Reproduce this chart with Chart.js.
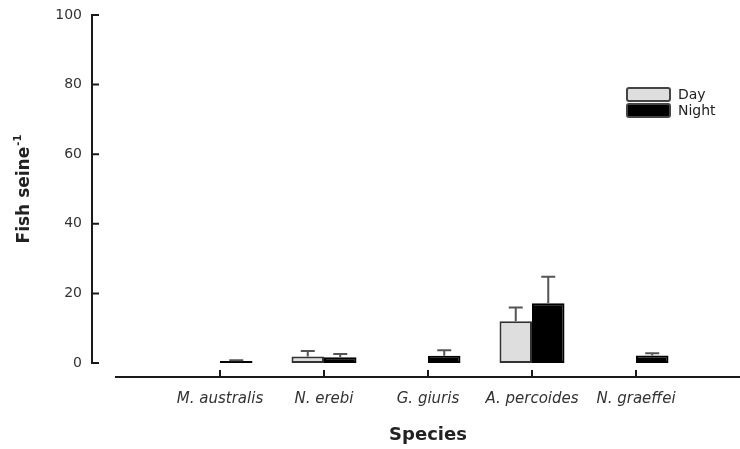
<!DOCTYPE html>
<html>
<head>
<meta charset="utf-8">
<title>Fish seine by species</title>
<script src="https://cdn.jsdelivr.net/npm/chart.js"></script>
<style>
  html, body { margin: 0; padding: 0; background: #fff; }
  #wrap { width: 740px; height: 449px; position: relative; }
</style>
</head>
<body>
<div id="wrap"><canvas id="fishChart"></canvas></div>
<script>
var species = ['M. australis', 'N. erebi', 'G. giuris', 'A. percoides', 'N. graeffei'];
var dayMean = [0, 1.9, 0, 12.0, 0];
var daySE = [0, 1.6, 0, 4.0, 0];
var nightMean = [0.6, 1.7, 2.1, 17.2, 2.2];
var nightSE = [0.2, 0.9, 1.6, 7.6, 0.6];
var yTicks = [0, 20, 40, 60, 80, 100];

// one empty slot at each end so the species sit in from the axis ends
function pad(arr, fill) { return [fill].concat(arr, [fill]); }

Chart.defaults.font.family = '"DejaVu Sans", sans-serif';

// SigmaPlot-style axes (detached y axis, inward ticks), upper error bars, legend
var axesAndErrors = {
  id: 'axesAndErrors',
  afterDatasetsDraw: function(chart) {
    var ctx = chart.ctx, area = chart.chartArea;
    var xs = chart.scales.x, ys = chart.scales.y;
    ctx.save();

    // error bars, upper arm only
    ctx.strokeStyle = '#555';
    ctx.lineWidth = 2;
    [[dayMean, daySE], [nightMean, nightSE]].forEach(function(pair, d) {
      var meta = chart.getDatasetMeta(d);
      pair[1].forEach(function(e, i) {
        if (!e) return;
        var bar = meta.data[i + 1];
        var top = ys.getPixelForValue(pair[0][i] + e);
        ctx.beginPath();
        ctx.moveTo(bar.x, bar.y);
        ctx.lineTo(bar.x, top);
        ctx.moveTo(bar.x - 7, top);
        ctx.lineTo(bar.x + 7, top);
        ctx.stroke();
      });
    });

    // axes
    ctx.strokeStyle = '#1a1a1a';
    ctx.lineWidth = 2;
    ctx.lineCap = 'square';
    var ax = area.left - 24;
    var y0 = ys.getPixelForValue(0), y100 = ys.getPixelForValue(100);
    ctx.beginPath();
    ctx.moveTo(ax, y100);
    ctx.lineTo(ax, y0);
    yTicks.forEach(function(v) {
      var py = ys.getPixelForValue(v);
      ctx.moveTo(ax, py);
      ctx.lineTo(ax + 6, py);
    });
    ctx.moveTo(area.left, area.bottom);
    ctx.lineTo(area.right, area.bottom);
    species.forEach(function(s, i) {
      var px = xs.getPixelForValue(i + 1);
      ctx.moveTo(px, area.bottom);
      ctx.lineTo(px, area.bottom - 6);
    });
    ctx.stroke();

    // y title with superscript
    ctx.save();
    ctx.translate(25, (y0 + y100) / 2);
    ctx.rotate(-Math.PI / 2);
    ctx.fillStyle = '#222';
    ctx.textBaseline = 'middle';
    ctx.textAlign = 'left';
    var main = 'Fish seine', sup = '-1';
    ctx.font = 'bold 17px "DejaVu Sans"';
    var w1 = ctx.measureText(main).width;
    ctx.font = 'bold 10px "DejaVu Sans"';
    var w2 = ctx.measureText(sup).width;
    var start = -(w1 + w2 + 1) / 2;
    ctx.font = 'bold 17px "DejaVu Sans"';
    ctx.fillText(main, start, 0);
    ctx.font = 'bold 10px "DejaVu Sans"';
    ctx.fillText(sup, start + w1 + 1, -7);
    ctx.restore();

    // legend
    var lx = area.right - 113, ly = area.top + 73;
    ctx.font = '14px "DejaVu Sans"';
    ctx.textBaseline = 'middle';
    chart.data.datasets.forEach(function(ds, d) {
      var by = ly + d * 16;
      ctx.beginPath();
      if (ctx.roundRect) ctx.roundRect(lx, by, 43, 13, 2);
      else ctx.rect(lx, by, 43, 13);
      ctx.fillStyle = ds.backgroundColor;
      ctx.fill();
      ctx.lineWidth = 2;
      ctx.strokeStyle = '#444';
      ctx.stroke();
      ctx.fillStyle = '#222';
      ctx.fillText(ds.label, lx + 51, by + 7);
    });

    ctx.restore();
  }
};

new Chart(document.getElementById('fishChart'), {
  type: 'bar',
  data: {
    labels: pad(species, ''),
    datasets: [
      {
        label: 'Day',
        data: pad(dayMean, null),
        backgroundColor: '#dedede',
        borderColor: '#333',
        borderWidth: 2,
        borderSkipped: false
      },
      {
        label: 'Night',
        data: pad(nightMean, null),
        backgroundColor: '#000',
        borderColor: '#000',
        borderWidth: 2,
        borderSkipped: false
      }
    ]
  },
  options: {
    responsive: true,
    maintainAspectRatio: false,
    animation: false,
    layout: { padding: { top: 15, right: 0, bottom: 0, left: 0 } },
    datasets: { bar: { categoryPercentage: 0.625, barPercentage: 1 } },
    plugins: { legend: { display: false }, tooltip: { enabled: false } },
    scales: {
      x: {
        offset: false,
        // hidden tick marks only reserve the gap above the labels
        grid: { display: false, drawTicks: true, tickLength: 13 },
        border: { display: false },
        ticks: {
          autoSkip: false,
          maxRotation: 0,
          padding: 0,
          color: '#333',
          font: { size: 15, style: 'italic' }
        },
        title: {
          display: true,
          text: 'Species',
          color: '#222',
          font: { size: 18, weight: 'bold' },
          padding: { top: 0, bottom: 3 }
        },
        afterFit: function(scale) { scale.height = 72; }
      },
      y: {
        min: -4,
        max: 100,
        grid: { display: false, drawTicks: true, tickLength: 34 },
        border: { display: false },
        afterBuildTicks: function(scale) {
          scale.ticks = yTicks.map(function(v) { return { value: v }; });
        },
        ticks: {
          padding: 0,
          color: '#333',
          font: { size: 14 }
        },
        afterFit: function(scale) { scale.width = 116; }
      }
    }
  },
  plugins: [axesAndErrors]
});
</script>
</body>
</html>
